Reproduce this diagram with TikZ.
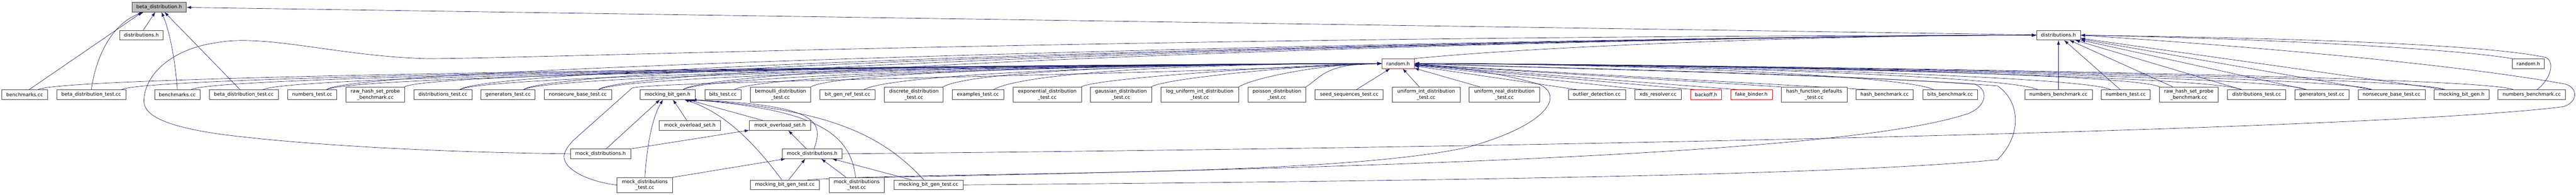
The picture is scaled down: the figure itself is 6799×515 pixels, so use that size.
\documentclass[tikz,border=0pt]{standalone}
\usepackage{fontspec}
\setmainfont{DejaVu Sans}
\usetikzlibrary{arrows.meta}
\pgfdeclarelayer{back}
\pgfsetlayers{back,main}
\definecolor{edgeblue}{HTML}{191970}
\definecolor{mainfill}{HTML}{BFBFBF}
\tikzset{
  filebox/.style={draw=black!75, line width=0.9pt, fill=white, inner sep=0pt,
    minimum height=25.5pt, align=center, font=\fontsize{12.8pt}{15.5pt}\selectfont},
  filebox2/.style={filebox, minimum height=40pt},
  mainbox/.style={filebox, fill=mainfill},
  redbox/.style={filebox, draw=red},
  incl/.style={edgeblue, line width=0.9pt, -{Latex[length=12pt,width=8pt]}}
}

\begin{document}
\begin{tikzpicture}[x=1pt,y=-1pt]
\useasboundingbox (0,0) rectangle (6799,515);

\node[mainbox, minimum width=144pt] (bh) at (420,18.5) {beta\_distribution.h};
\node[filebox, minimum width=114.5pt] (dL) at (373,93) {distributions.h};
\node[filebox, minimum width=115.5pt] (dR) at (5433,93) {distributions.h};
\node[redbox, minimum width=85pt] (rh) at (3690,168) {random.h};
\node[filebox, minimum width=84pt] (rhR) at (6673,168) {random.h};

\node[filebox, minimum width=121pt] (bmA) at (65,250) {benchmarks.cc};
\node[filebox, minimum width=183pt] (btA) at (241,250) {beta\_distribution\_test.cc};
\node[filebox, minimum width=120pt] (bmB) at (468,250) {benchmarks.cc};
\node[filebox, minimum width=183pt] (btB) at (643.5,250) {beta\_distribution\_test.cc};
\node[filebox, minimum width=130pt] (ntA) at (824,250) {numbers\_test.cc};
\node[filebox2, minimum width=155pt] (rpA) at (990.5,250) {raw\_hash\_set\_probe\\\_benchmark.cc};
\node[filebox, minimum width=154pt] (dtA) at (1169,250) {distributions\_test.cc};
\node[filebox, minimum width=143pt] (gtA) at (1341,250) {generators\_test.cc};
\node[filebox, minimum width=178.5pt] (nsA) at (1525,250) {nonsecure\_base\_test.cc};
\node[filebox, minimum width=145.5pt] (mbA) at (1762,250) {mocking\_bit\_gen.h};
\node[filebox, minimum width=96pt] (btst) at (1908,250) {bits\_test.cc};
\node[filebox2, minimum width=160pt] (bern) at (2060,250) {bernoulli\_distribution\\\_test.cc};
\node[filebox, minimum width=145pt] (bgr) at (2237,250) {bit\_gen\_ref\_test.cc};
\node[filebox2, minimum width=155pt] (disc) at (2412,250) {discrete\_distribution\\\_test.cc};
\node[filebox, minimum width=136.5pt] (exa) at (2581,250) {examples\_test.cc};
\node[filebox2, minimum width=180pt] (expo) at (2764,250) {exponential\_distribution\\\_test.cc};
\node[filebox2, minimum width=161pt] (gau) at (2958.5,250) {gaussian\_distribution\\\_test.cc};
\node[filebox2, minimum width=206pt] (logu) at (3166.5,250) {log\_uniform\_int\_distribution\\\_test.cc};
\node[filebox2, minimum width=153.5pt] (poi) at (3370,250) {poisson\_distribution\\\_test.cc};
\node[filebox, minimum width=179.5pt] (seed) at (3561,250) {seed\_sequences\_test.cc};
\node[filebox2, minimum width=179pt] (uint) at (3764,250) {uniform\_int\_distribution\\\_test.cc};
\node[filebox2, minimum width=187pt] (ureal) at (3970.5,250) {uniform\_real\_distribution\\\_test.cc};
\node[filebox, minimum width=151pt] (outl) at (4214.5,250) {outlier\_detection.cc};
\node[filebox, minimum width=123pt] (xds) at (4376,250) {xds\_resolver.cc};
\node[redbox, minimum width=81.5pt] (back) at (4503,250) {backoff.h};
\node[redbox, minimum width=110pt] (fake) at (4622.5,250) {fake\_binder.h};
\node[filebox2, minimum width=174pt] (hfd) at (4788,250) {hash\_function\_defaults\\\_test.cc};
\node[filebox, minimum width=150.5pt] (hbm) at (4974,250) {hash\_benchmark.cc};
\node[filebox, minimum width=144.5pt] (bbm) at (5147,250) {bits\_benchmark.cc};
\node[filebox, minimum width=178.5pt] (nbmA) at (5433,250) {numbers\_benchmark.cc};
\node[filebox, minimum width=129pt] (ntB) at (5610.5,250) {numbers\_test.cc};
\node[filebox2, minimum width=155pt] (rpB) at (5777,250) {raw\_hash\_set\_probe\\\_benchmark.cc};
\node[filebox, minimum width=154pt] (dtB) at (5956,250) {distributions\_test.cc};
\node[filebox, minimum width=143.5pt] (gtB) at (6128,250) {generators\_test.cc};
\node[filebox, minimum width=177pt] (nsB) at (6312,250) {nonsecure\_base\_test.cc};
\node[filebox, minimum width=145.5pt] (mbB) at (6497,250) {mocking\_bit\_gen.h};
\node[filebox, minimum width=177.5pt] (nbmB) at (6682,250) {numbers\_benchmark.cc};

\node[filebox, minimum width=162pt] (mosA) at (1821,331.5) {mock\_overload\_set.h};
\node[filebox, minimum width=161pt] (mosB) at (2058.5,331.5) {mock\_overload\_set.h};
\node[filebox, minimum width=159pt] (mdA) at (1585,406.5) {mock\_distributions.h};
\node[filebox, minimum width=159pt] (mdB) at (2143.5,406.5) {mock\_distributions.h};
\node[filebox2, minimum width=147pt] (mdtA) at (1702,489) {mock\_distributions\\\_test.cc};
\node[filebox2, minimum width=146.5pt] (mdtB) at (2261,489) {mock\_distributions\\\_test.cc};
\node[filebox, minimum width=183pt] (mbtA) at (2071.5,488.5) {mocking\_bit\_gen\_test.cc};
\node[filebox, minimum width=183pt] (mbtB) at (2450.5,488.5) {mocking\_bit\_gen\_test.cc};

\begin{pgfonlayer}{back}
% beta_distribution.h
\draw[incl] (dR) -- (bh);
\draw[incl] ([xshift=5pt]dL.north) -- ([xshift=-10pt]bh.south);
\draw[incl] ([xshift=12pt]bmA.north) -- ([xshift=-44pt]bh.south);
\draw[incl] (btA.north) .. controls (255,140) and (300,60) .. ([xshift=-40pt]bh.south);
\draw[incl] (bmB.north) .. controls (462,150) and (445,75) .. ([xshift=6pt]bh.south);
\draw[incl] ([xshift=-10pt]btB.north) -- ([xshift=14pt]bh.south);

% random.h from the left
\foreach \s/\d in {bmA/35,btA/80,bmB/36,btB/51,ntA/38,rpA/77,dtA/45,gtA/41,nsA/55,
  mbA/41,btst/30,bern/80,bgr/43,disc/77,exa/41}
  \draw[incl] ([xshift=\d pt]\s.north) .. controls +(80,-45) and +(-500,0) .. (rh.west);
\foreach \s/\d in {expo/90,gau/80,logu/103,poi/77}
  \draw[incl] ([xshift=\d pt]\s.north) .. controls +(40,-25) and +(-150,0) .. (rh.west);

% random.h from below and the right
\foreach \s/\d in {seed/19,uint/-18,ureal/-65,outl/-52,xds/-40,back/-29,fake/-35,hfd/-87,hbm/-43}
  \draw[incl] ([xshift=\d pt]\s.north) -- (rh);
\foreach \s/\d in {bbm/-43,nbmA/-55,ntB/-40,rpB/-77,dtB/-40,gtB/-41,nsB/-52,mbB/-44,nbmB/-49}
  \draw[incl] ([xshift=\d pt]\s.north) .. controls +(-80,-40) and +(500,0) .. (rh.east);

% distributions.h
\foreach \s/\d in {ntA/38,dtA/45,gtA/41,nsA/55,mbA/41}
  \draw[incl] ([xshift=\d pt]\s.north) .. controls +(80,-70) and +(-900,0) .. (dR.west);
\draw[incl] (rh.north east) .. controls +(300,-30) and +(-600,0) .. (dR.west);
\draw[incl] (nbmA.north) -- (dR.south);
\foreach \s/\d in {ntB/-14.5,rpB/-42,dtB/-40,gtB/-41,nsB/-52,mbB/-44}
  \draw[incl] ([xshift=\d pt]\s.north) -- (dR);
\draw[incl] (rhR.north west) .. controls (6450,125) and (5900,100) .. (dR.east);
\draw[incl] ([xshift=14pt]nbmB.north) .. controls (6730,212) and (6745,165) .. (6720,152)
  .. controls (6550,115) and (6000,100) .. (dR.east);
\draw[incl] (mdA.west) .. controls (1100,402) and (750,378) .. (570,353)
  .. controls (420,330) and (380,300) .. (380,267)
  .. controls (380,200) and (450,130) .. (570,113)
  .. controls (700,88) and (900,150) .. (1130,155)
  .. controls (1400,155) and (3000,95) .. (dR.west);
\draw[incl] (mdB.east) .. controls (4500,385) and (6350,335) .. (6765,282)
  .. controls (6805,270) and (6805,232) .. (6770,222)
  .. controls (6450,165) and (5900,120) .. (dR.east);

% mocking_bit_gen.h
\draw[incl] ([xshift=15pt]mdA.north) -- ([xshift=-20pt]mbA.south);
\draw[incl] (mdtA.north) .. controls (1708,380) and (1722,310) .. ([xshift=-12pt]mbA.south);
\draw[incl] ([xshift=-8pt]mosA.north) -- ([xshift=14pt]mbA.south);
\draw[incl] ([xshift=-8pt]mbtA.north) .. controls (2000,390) and (1920,300) .. ([xshift=44pt]mbA.south);
\draw[incl] ([xshift=-45pt]mosB.north) -- ([xshift=52pt]mbA.south);
\draw[incl] ([xshift=5pt]mdB.north) .. controls (2175,320) and (2160,278) .. ([xshift=56pt]mbA.south);
\draw[incl] ([xshift=-3pt]mdtB.north) .. controls (2245,350) and (2150,290) .. ([xshift=60pt]mbA.south);
\draw[incl] ([xshift=-12pt]mbtB.north) .. controls (2330,360) and (2200,290) .. ([xshift=64pt]mbA.south);

% mock_overload_set.h and mock_distributions.h
\draw[incl] (mdA.north east) -- (mosB);
\draw[incl] ([xshift=-15pt]mdB.north) -- ([xshift=22pt]mosB.south);
\draw[incl] (mdtA.north east) -- ([xshift=-70pt]mdB.south);
\draw[incl] ([xshift=10pt]mbtA.north) -- ([xshift=-18pt]mdB.south);
\draw[incl] ([xshift=-28pt]mdtB.north) -- ([xshift=24pt]mdB.south);
\draw[incl] ([xshift=-45pt]mbtB.north) -- ([xshift=53pt]mdB.south);

% tests looping back to random.h
\draw[incl] (mdtA.west) .. controls (1540,478) and (1478,440) .. (1490,405)
  .. controls (1495,392) and (1500,386) .. (1512,372) -- (1668,233)
  .. controls (1700,215) and (3000,200) .. (rh.west);
\draw[incl] ([xshift=60pt]mbtA.north) .. controls (2500,452) and (3500,470) .. (3870,390)
  .. controls (4090,330) and (4130,250) .. (4060,222)
  .. controls (3950,190) and (3820,175) .. (rh.east);
\draw[incl] (mdtB.north east) .. controls (3800,440) and (4900,400) .. (5195,300)
  .. controls (5245,280) and (5250,235) .. (5210,222)
  .. controls (4800,195) and (4000,178) .. (rh.east);
\draw[incl] (mbtB.east) .. controls (3900,478) and (4900,460) .. (5272,422)
  .. controls (5335,360) and (5335,270) .. (5272,227)
  .. controls (4800,192) and (4100,180) .. (rh.east);
\end{pgfonlayer}
\end{tikzpicture}
\end{document}
